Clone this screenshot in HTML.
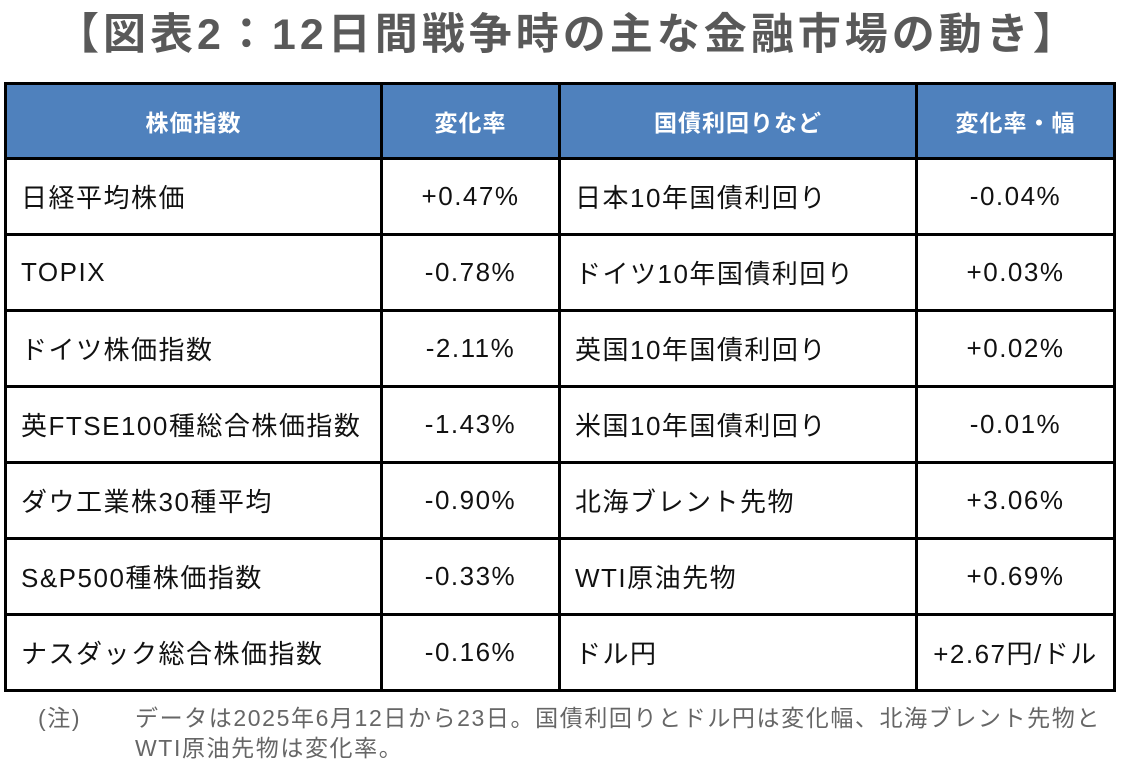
<!DOCTYPE html>
<html><head><meta charset="utf-8"><style>
body{margin:0;width:1128px;height:777px;background:#fff;font-family:"Liberation Sans","Noto Sans CJK JP",sans-serif;position:relative;overflow:hidden}
.title{position:absolute;left:56px;top:0px;font-size:43px;font-weight:bold;color:#595959;white-space:nowrap;letter-spacing:4px}
table{position:absolute;left:4px;top:82px;border-collapse:collapse;table-layout:fixed}
td{border:3px solid #000;height:73px;font-size:26px;color:#111;padding:0;white-space:nowrap;letter-spacing:1.5px}
th{border:3px solid #000;height:72px;background:#4f81bd;color:#fff;font-size:23px;font-weight:bold;padding:0;letter-spacing:1px}
td.l{padding-left:14px;text-align:left}
td.c{text-align:center}
.note{position:absolute;top:703px;font-size:23px;color:#666;line-height:30px;letter-spacing:1.6px}
</style></head><body>
<div class="title">【図表2：12日間戦争時の主な金融市場の動き】</div>
<table>
<colgroup><col style="width:376px"><col style="width:178px"><col style="width:357px"><col style="width:198px"></colgroup>
<tr><th>株価指数</th><th>変化率</th><th>国債利回りなど</th><th>変化率・幅</th></tr>
<tr><td class="l">日経平均株価</td><td class="c">+0.47%</td><td class="l">日本10年国債利回り</td><td class="c">-0.04%</td></tr>
<tr><td class="l">TOPIX</td><td class="c">-0.78%</td><td class="l">ドイツ10年国債利回り</td><td class="c">+0.03%</td></tr>
<tr><td class="l">ドイツ株価指数</td><td class="c">-2.11%</td><td class="l">英国10年国債利回り</td><td class="c">+0.02%</td></tr>
<tr><td class="l">英FTSE100種総合株価指数</td><td class="c">-1.43%</td><td class="l">米国10年国債利回り</td><td class="c">-0.01%</td></tr>
<tr><td class="l">ダウ工業株30種平均</td><td class="c">-0.90%</td><td class="l">北海ブレント先物</td><td class="c">+3.06%</td></tr>
<tr><td class="l">S&amp;P500種株価指数</td><td class="c">-0.33%</td><td class="l">WTI原油先物</td><td class="c">+0.69%</td></tr>
<tr><td class="l">ナスダック総合株価指数</td><td class="c">-0.16%</td><td class="l">ドル円</td><td class="c">+2.67円/ドル</td></tr>
</table>
<div class="note" style="left:38px">(注)</div>
<div class="note" style="left:135px">データは2025年6月12日から23日。国債利回りとドル円は変化幅、北海ブレント先物と<br>WTI原油先物は変化率。</div>
</body></html>
